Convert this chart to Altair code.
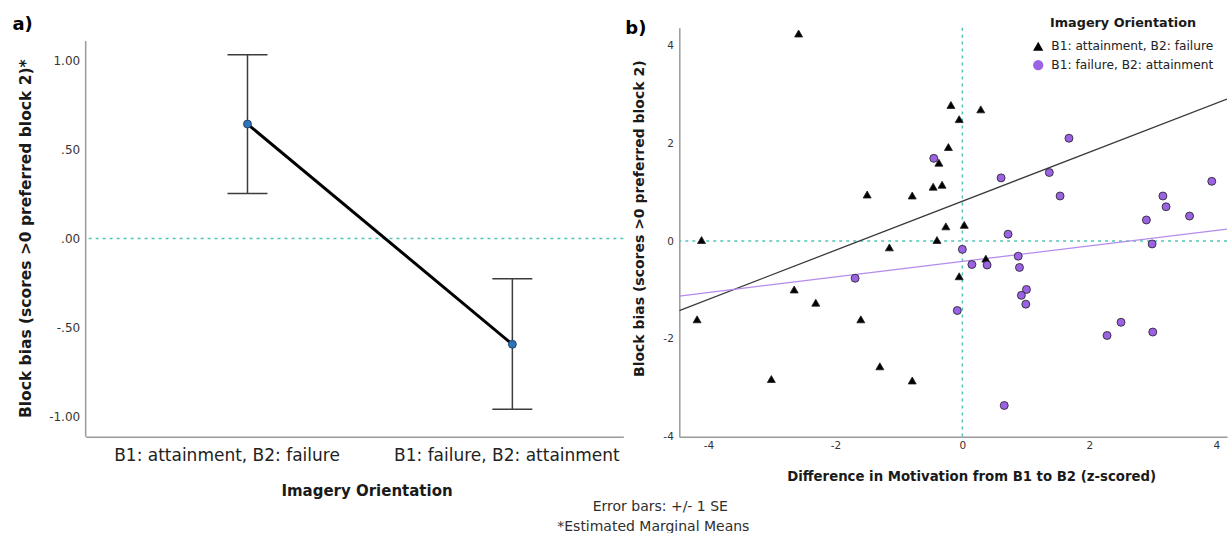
import altair as alt
import pandas as pd

FONT = "DejaVu Sans"
TEAL = "#52c4b6"

# ---------------- panel a data ----------------
orientation = ["B1: attainment, B2: failure", "B1: failure, B2: attainment"]
orientation_pos = [0, 1]
emm_mean = [0.643, -0.595]
emm_lower = [0.252, -0.960]
emm_upper = [1.032, -0.227]
a_tick_values = [1.0, 0.5, 0.0, -0.5, -1.0]
a_tick_labels = ["1.00", ".50", ".00", "-.50", "-1.00"]
a_axis_range = [-1.115, 1.11]
footnotes = ["Error bars: +/- 1 SE", "*Estimated Marginal Means"]

# ---------------- panel b data ----------------
tri_x = [-2.58, -0.18, 0.29, -0.05, -0.22, -0.37, -0.46, -0.32, -1.50, -0.79, -0.26, 0.03,
         -4.11, -0.40, -1.15, 0.37, -0.05, -2.65, -2.31, -4.18, -1.60, -1.30, -3.01, -0.79]
tri_y = [4.24, 2.78, 2.69, 2.49, 1.92, 1.60, 1.11, 1.15, 0.95, 0.93, 0.30, 0.33,
         0.02, 0.02, -0.13, -0.36, -0.72, -0.99, -1.26, -1.60, -1.60, -2.56, -2.82, -2.85]
circ_x = [1.68, -0.45, 0.61, 1.37, 1.54, 3.93, 3.16, 3.21, 3.58, 2.90, 0.72, 2.99, 0.00,
          0.15, 0.39, 0.88, 0.90, -1.69, 1.01, 0.93, 1.00, -0.08, 2.50, 2.28, 3.00, 0.66]
circ_y = [2.10, 1.69, 1.29, 1.40, 0.92, 1.22, 0.92, 0.70, 0.51, 0.43, 0.14, -0.06, -0.17,
          -0.48, -0.49, -0.31, -0.54, -0.76, -0.99, -1.11, -1.29, -1.42, -1.66, -1.93, -1.86, -3.36]
fit_x = [-4.46, 4.17]
fit_tri = [-1.42, 2.90]
fit_circ = [-1.125, 0.245]
b_tick_values = [-4, -2, 0, 2, 4]


def label_lookup(values, labels):
    expr = "'" + labels[-1] + "'"
    for v, lab in reversed(list(zip(values[:-1], labels[:-1]))):
        expr = "abs(datum.value - (" + str(v) + ")) < 1e-6 ? '" + lab + "' : " + expr
    return expr


# ================= panel a =================
A_W, A_H = 538, 409.4
DOMAIN_GREY = "#9a9a9a"

ax_a_x = alt.Axis(values=orientation_pos, labelExpr=label_lookup(orientation_pos, orientation),
                  labelOffset={"condition": {"test": "datum.value < 0.5", "value": -21}, "value": -6},
                  title="Imagery Orientation", titleFont=FONT, titleFontSize=15, titleFontWeight="bold",
                  titleColor="#1a1a1a", titleX=281, titleY=46.5,
                  labelFont=FONT, labelFontSize=17, labelColor="#222222", labelPadding=11,
                  labelLimit=600, labelFlush=False, labelOverlap=False, ticks=False, tickSize=0,
                  grid=False, domainColor=DOMAIN_GREY, domainWidth=1.5)
ax_a_y = alt.Axis(values=a_tick_values, labelExpr=label_lookup(a_tick_values, a_tick_labels),
                  title="Block bias (scores >0 preferred block 2)*", titleFont=FONT, titleFontSize=15.5,
                  titleFontWeight="bold", titleColor="#1a1a1a", titleX=-52, titleY=210.7,
                  labelFont=FONT, labelFontSize=12, labelColor="#333333", labelPadding=6,
                  labelFlush=False, labelOverlap=False, ticks=False, tickSize=0, grid=False,
                  domain=False)
sc_a_x = alt.Scale(domain=[-0.611, 1.419], nice=False, zero=False)
sc_a_y = alt.Scale(domain=[-1.115, 1.185], nice=False, zero=False)


def AX(f):
    return alt.X(f + ":Q", scale=sc_a_x, axis=ax_a_x)


def AY(f):
    return alt.Y(f + ":Q", scale=sc_a_y, axis=ax_a_y)


df_a = pd.DataFrame({"pos": orientation_pos, "orientation": orientation,
                     "mean": emm_mean, "lower": emm_lower, "upper": emm_upper})

a_axisline = alt.Chart(pd.DataFrame({"lower": [a_axis_range[0]], "upper": [a_axis_range[1]]})).mark_rule(
    color=DOMAIN_GREY, strokeWidth=1.5).encode(x=alt.value(0), y=AY("lower"), y2="upper")
a_zero = alt.Chart(pd.DataFrame({"mean": [0.0]})).mark_rule(
    color=TEAL, strokeDash=[3, 4], strokeWidth=1.5).encode(y=AY("mean"))
a_err = alt.Chart(df_a).mark_rule(color="#3c3c3c", strokeWidth=1.5).encode(
    x=AX("pos"), y=AY("lower"), y2="upper")
a_cap_lo = alt.Chart(df_a).mark_tick(orient="horizontal", size=40, thickness=1.5,
                                      color="#3c3c3c", opacity=1).encode(x=AX("pos"), y=AY("lower"))
a_cap_hi = alt.Chart(df_a).mark_tick(orient="horizontal", size=40, thickness=1.5,
                                      color="#3c3c3c", opacity=1).encode(x=AX("pos"), y=AY("upper"))
a_line = alt.Chart(df_a).mark_line(color="black", strokeWidth=3).encode(x=AX("pos"), y=AY("mean"))
a_pts = alt.Chart(df_a).mark_circle(size=64, color="#2d74bb", stroke="#1b3550",
                                    strokeWidth=0.8, opacity=1).encode(x=AX("pos"), y=AY("mean"))
a_tag = alt.Chart(pd.DataFrame({"t": ["a)"]})).mark_text(
    font=FONT, fontSize=18, fontWeight="bold", align="left", baseline="middle", color="black"
).encode(text="t:N", x=alt.value(-73.3), y=alt.value(-2.3))
a_note1 = alt.Chart(pd.DataFrame({"t": [footnotes[0]]})).mark_text(
    font=FONT, fontSize=14, align="center", baseline="middle", color="#2e2e2e"
).encode(text="t:N", x=alt.value(575), y=alt.value(479.5))
a_note2 = alt.Chart(pd.DataFrame({"t": [footnotes[1]]})).mark_text(
    font=FONT, fontSize=14, align="center", baseline="middle", color="#2e2e2e"
).encode(text="t:N", x=alt.value(568), y=alt.value(499.7))

panel_a = alt.layer(a_axisline, a_zero, a_err, a_cap_lo, a_cap_hi, a_line, a_pts, a_tag,
                    a_note1, a_note2).properties(width=A_W, height=A_H)

# ================= panel b =================
B_W, B_H = 548, 409.4

ax_b_x = alt.Axis(values=b_tick_values, labelExpr="'' + datum.value",
                  title="Difference in Motivation from B1 to B2 (z-scored)", titleFont=FONT,
                  titleFontSize=13.3, titleFontWeight="bold", titleColor="#1a1a1a",
                  titleX=292, titleY=32.3,
                  labelFont=FONT, labelFontSize=10.5, labelColor="#333333", labelPadding=4,
                  labelFlush=False, labelOverlap=False, ticks=False, tickSize=0, grid=False,
                  domainColor=DOMAIN_GREY, domainWidth=1.5)
ax_b_y = alt.Axis(values=b_tick_values, labelExpr="'' + datum.value",
                  title="Block bias (scores >0 preferred block 2)", titleFont=FONT,
                  titleFontSize=14, titleFontWeight="bold", titleColor="#1a1a1a",
                  titleX=-33, titleY=190.7,
                  labelFont=FONT, labelFontSize=10.5, labelColor="#333333", labelPadding=6,
                  labelFlush=False, labelOverlap=False, ticks=False, tickSize=0, grid=False,
                  domainColor=DOMAIN_GREY, domainWidth=1.5)
sc_b_x = alt.Scale(domain=[-4.46, 4.17], nice=False, zero=False)
sc_b_y = alt.Scale(domain=[-4.0, 4.36], nice=False, zero=False)


def BX(f):
    return alt.X(f + ":Q", scale=sc_b_x, axis=ax_b_x)


def BY(f):
    return alt.Y(f + ":Q", scale=sc_b_y, axis=ax_b_y)


df_pts = pd.DataFrame({
    "x": tri_x + circ_x,
    "y": tri_y + circ_y,
    "grp": [orientation[0]] * len(tri_x) + [orientation[1]] * len(circ_x),
})
df_fit_tri = pd.DataFrame({"x": fit_x, "y": fit_tri})
df_fit_circ = pd.DataFrame({"x": fit_x, "y": fit_circ})

# the legend is placed relative to the whole (shared) layout, whose origin is panel a's plot
legend_b = alt.Legend(title="Imagery Orientation", orient="none", legendX=947, legendY=-10.3,
                      titleFont=FONT, titleFontSize=12.8, titleFontWeight="bold",
                      titleColor="#1a1a1a", titleAnchor="middle", titlePadding=10,
                      labelFont=FONT, labelFontSize=12.2, labelColor="#222222", labelLimit=400,
                      symbolSize=105, symbolStrokeColor="#1e1e1e",
                      symbolStrokeWidth=0.8, rowPadding=5, labelOffset=7)

b_hz = alt.Chart(pd.DataFrame({"y": [0.0]})).mark_rule(
    color=TEAL, strokeDash=[3, 4], strokeWidth=1.5).encode(y=BY("y"))
b_vz = alt.Chart(pd.DataFrame({"x": [0.0]})).mark_rule(
    color=TEAL, strokeDash=[3, 4], strokeWidth=1.5).encode(x=BX("x"))
b_fit1 = alt.Chart(df_fit_tri).mark_line(strokeWidth=1.3, color="#3a3a3a", clip=True).encode(
    x=BX("x"), y=BY("y"))
b_fit2 = alt.Chart(df_fit_circ).mark_line(strokeWidth=1.3, color="#b48cec", clip=True).encode(
    x=BX("x"), y=BY("y"))
b_pts = alt.Chart(df_pts).mark_point(filled=True, size=64, stroke="#1e1e1e", strokeWidth=0.8,
                                     opacity=1, fillOpacity=1).encode(
    x=BX("x"), y=BY("y"),
    fill=alt.Fill("grp:N", scale=alt.Scale(domain=orientation, range=["#000000", "#9b63e4"]),
                  legend=legend_b),
    shape=alt.Shape("grp:N", scale=alt.Scale(domain=orientation, range=["triangle-up", "circle"]),
                    legend=legend_b),
)
b_tag = alt.Chart(pd.DataFrame({"t": ["b)"]})).mark_text(
    font=FONT, fontSize=18, fontWeight="bold", align="left", baseline="middle", color="black"
).encode(text="t:N", x=alt.value(-54), y=alt.value(1.7))

panel_b = alt.layer(b_hz, b_vz, b_fit1, b_fit2, b_pts, b_tag).properties(width=B_W, height=B_H)

# ================= layout =================
chart = alt.hconcat(panel_a, panel_b, spacing=56, bounds="flush").properties(
    padding={"left": 11.7, "top": 15.5, "right": 0, "bottom": 0},
    background="white",
).configure_view(stroke="transparent")

chart.save("out.html", embed_options={"renderer": "svg", "actions": False})
